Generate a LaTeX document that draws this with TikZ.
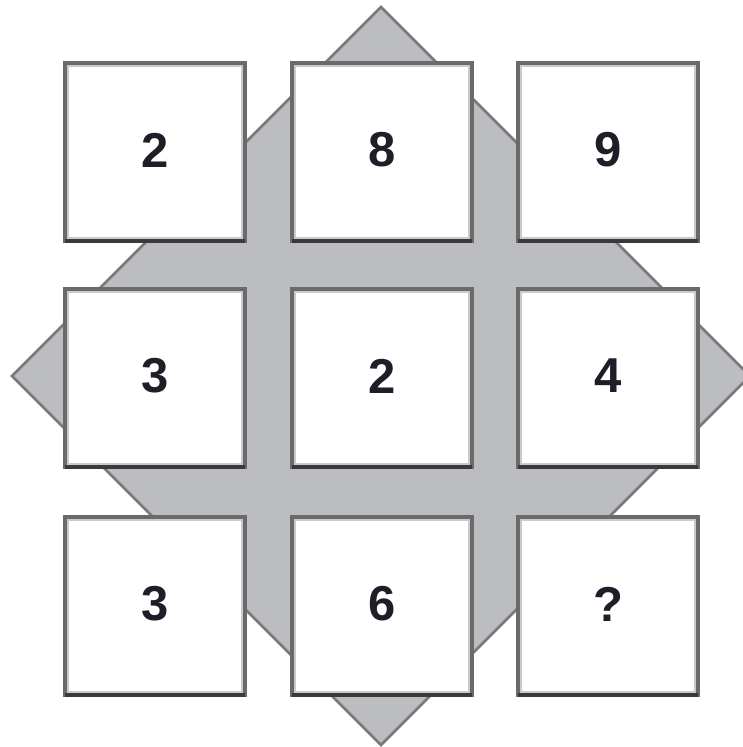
\documentclass[tikz,border=0pt]{standalone}
\usepackage{fontspec}
\setmainfont{Liberation Sans}
\usetikzlibrary{calc}
\definecolor{diafill}{HTML}{BCBDC1}
\definecolor{diaedge}{HTML}{7A7A7E}
\definecolor{boxedge}{HTML}{6A6A6A}
\definecolor{boxbottom}{HTML}{3A3A3A}
\definecolor{boxinner}{HTML}{CACACA}
\definecolor{digit}{HTML}{1E1E28}
\tikzset{
  cell/.style={draw=boxedge, line width=3.5pt, fill=white, minimum width=180pt, minimum height=178pt,
    inner sep=0pt, outer sep=0pt},
  digitlabel/.style={text=digit, font=\fontsize{49}{49}\selectfont\bfseries},
  innerline/.style={draw=boxinner, line width=2pt},
  bottomline/.style={draw=boxbottom, line width=3.5pt},
  diamondbg/.style={fill=diafill, draw=diaedge, line width=2.5pt, line join=miter},
}
\begin{document}
\begin{tikzpicture}[x=1pt,y=-1pt]
\useasboundingbox (0,0) rectangle (743,747);
\fill[white] (0,0) rectangle (743,747);
% background diamond
\coordinate (dc) at (381,376);
\path[diamondbg] ($(dc)+(0,-369)$) -- ($(dc)+(369,0)$) -- ($(dc)+(0,369)$) -- ($(dc)+(-369,0)$) -- cycle;
% cells
\foreach \nm/\cx/\cy/\t in {a/155/152/2, b/382/152/8, c/608/152/9,
                             d/155/378/3, e/382/378/2, f/608/378/4,
                             g/155/606/3, h/382/606/6, i/608/606/?} {
  \node[cell] (\nm) at (\cx,\cy) {};
  \draw[innerline] ($(\nm.north west)+(2.75pt,-2.75pt)$) rectangle ($(\nm.south east)+(-2.75pt,2.75pt)$);
  \draw[bottomline] (\nm.south west) -- (\nm.south east);
  \node[digitlabel] (\nm t) at ($(\nm.center)+(0pt,2pt)$) {\t};
}
\end{tikzpicture}
\end{document}
